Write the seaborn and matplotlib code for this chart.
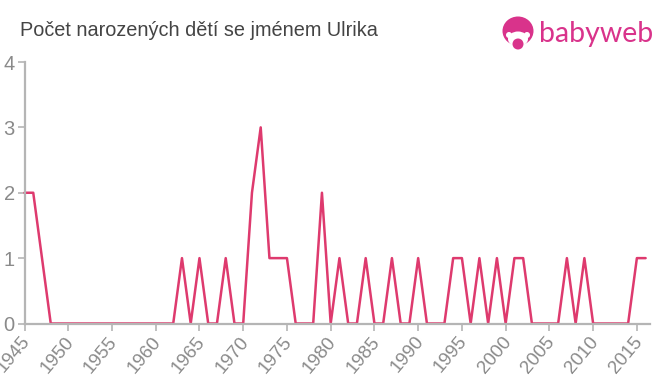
import matplotlib
matplotlib.use("Agg")
import matplotlib.pyplot as plt
import pandas as pd
import seaborn as sns
from matplotlib.patches import Circle, Ellipse
from matplotlib.transforms import ScaledTranslation

TITLE = "Počet narozených dětí se jménem Ulrika"
LOGO_TEXT = "babyweb"

years = list(range(1945, 2017))
births = [
    2, 2, 1, 0, 0, 0, 0, 0, 0, 0,
    0, 0, 0, 0, 0, 0, 0, 0, 1, 0,
    1, 0, 0, 1, 0, 0, 2, 3, 1, 1,
    1, 0, 0, 0, 2, 0, 1, 0, 0, 1,
    0, 0, 1, 0, 0, 1, 0, 0, 0, 1,
    1, 0, 1, 0, 1, 0, 1, 1, 0, 0,
    0, 0, 1, 0, 1, 0, 0, 0, 0, 0,
    1, 1,
]
x_ticks = list(range(1945, 2016, 5))
y_ticks = [0, 1, 2, 3, 4]

LINE_COLOR = "#de3a6e"
AXIS_COLOR = "#b5b5b5"
TICK_TEXT = "#8a8a8a"
LOGO_COLOR = "#d9338b"

W, H = 660, 375

sns.set_theme(style="white")
plt.rcParams["font.family"] = ["Liberation Sans", "DejaVu Sans"]

df = pd.DataFrame({"year": years, "births": births})

fig = plt.figure(figsize=(W / 100, H / 100), dpi=100)
ax = fig.add_axes([24.5 / W, 1 - 323.5 / H, (650 - 24.5) / W, (323.5 - 62) / H])
sns.lineplot(data=df, x="year", y="births", color=LINE_COLOR, linewidth=1.8, ax=ax, clip_on=False)

ax.set_xlim(1945, 2016.5)
ax.set_ylim(0, 4)
ax.set_xticks(x_ticks)
ax.set_yticks(y_ticks)
ax.set_xlabel("")
ax.set_ylabel("")
ax.tick_params(axis="both", colors=AXIS_COLOR, length=5, width=1.2, labelsize=13.5, bottom=True, left=True, pad=2)
label_shift = ScaledTranslation(-4 / 100, 0, fig.dpi_scale_trans)
for label in ax.get_xticklabels():
    label.set_color(TICK_TEXT)
    label.set_rotation(50)
    label.set_ha("right")
    label.set_rotation_mode("anchor")
    label.set_transform(label.get_transform() + label_shift)
for label in ax.get_yticklabels():
    label.set_color(TICK_TEXT)
    label.set_fontsize(14.5)
for side in ["top", "right"]:
    ax.spines[side].set_visible(False)
for side in ["left", "bottom"]:
    ax.spines[side].set_color(AXIS_COLOR)
    ax.spines[side].set_linewidth(1.6)

fig.text(20 / W, 1 - 30.5 / H, TITLE, fontsize=14.3, color="#444444", va="center", ha="left")

# logo, in pixel coordinates
logo = fig.add_axes([0, 0, 1, 1], facecolor="none")
logo.set_xlim(0, W)
logo.set_ylim(H, 0)
logo.axis("off")
logo.add_patch(Ellipse((518, 31), 31, 29, color=LOGO_COLOR, lw=0))
logo.add_patch(Ellipse((518, 39), 20, 15, color="white", lw=0))
logo.add_patch(Circle((509, 35), 3, color="white", lw=0))
logo.add_patch(Circle((527, 35), 3, color="white", lw=0))
logo.add_patch(Circle((518, 44), 5.5, color=LOGO_COLOR, lw=0))
logo.text(539, 42, LOGO_TEXT, fontsize=20.5, color=LOGO_COLOR, family="Lato", va="baseline", ha="left")

fig.savefig("out.png", dpi=100, facecolor="white")
